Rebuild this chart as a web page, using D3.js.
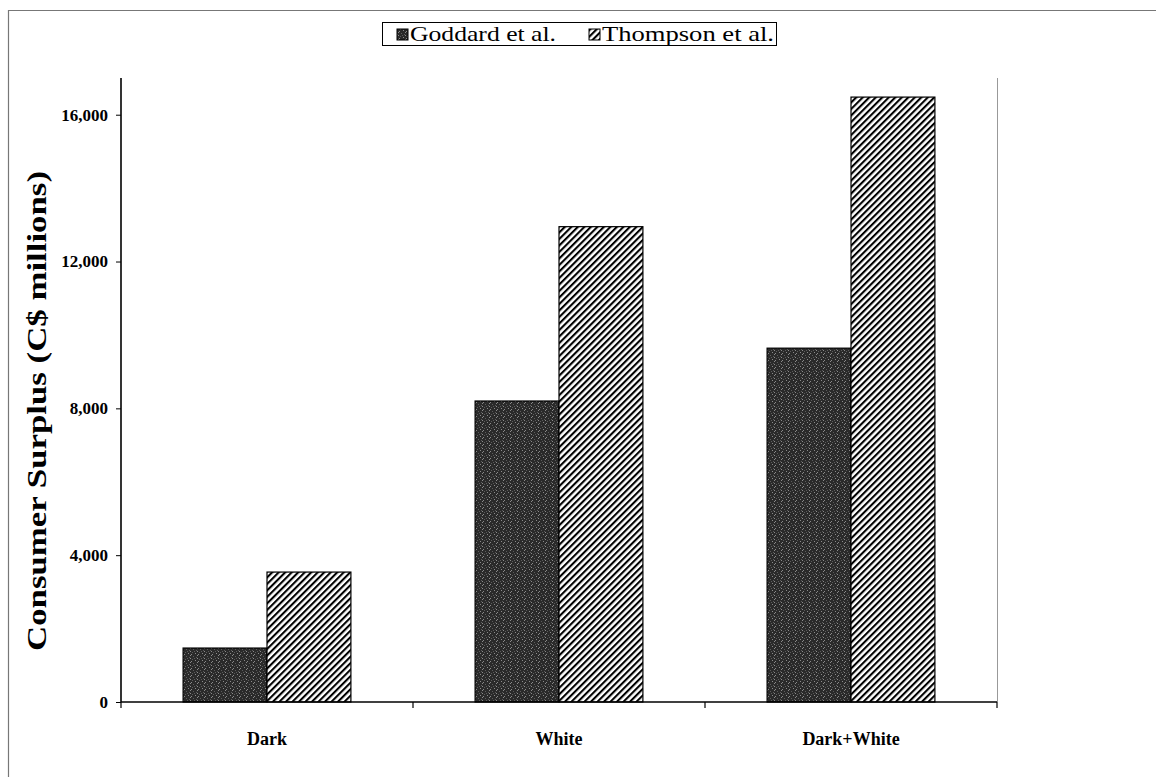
<!DOCTYPE html>
<html>
<head>
<meta charset="utf-8">
<script src="https://cdn.jsdelivr.net/npm/d3@7"></script>
<style>
  html, body { margin: 0; padding: 0; background: #fff; }
  svg { display: block; }
</style>
</head>
<body>
<svg id="chart" width="1156" height="777"></svg>
<script>
// Consumer surplus estimates by wheat class (C$ millions)
const categories = ["Dark", "White", "Dark+White"];
const seriesNames = ["Goddard et al.", "Thompson et al."];
const goddard = [1470, 8200, 9640];
const thompson = [3540, 12950, 16480];
const yTicks = [0, 4000, 8000, 12000, 16000];

const svg = d3.select("#chart");
const serif = "'Liberation Serif', 'Times New Roman', serif";

const plot = { left: 121, right: 997, top: 78, bottom: 702 };

// fill patterns
const defs = svg.append("defs");
const speck = defs.append("pattern")
  .attr("id", "speck").attr("patternUnits", "userSpaceOnUse")
  .attr("width", 7).attr("height", 7);
speck.append("rect").attr("width", 7).attr("height", 7).attr("fill", "#2a2a2a");
[[1,1],[4,2],[2,5],[6,4],[5,6],[0,3],[3,0],[6,0]].forEach(([px, py], i) => {
  speck.append("rect").attr("x", px).attr("y", py).attr("width", 1).attr("height", 1)
    .attr("fill", i % 2 ? "#8a8a8a" : "#5c5c5c");
});

const hatch = defs.append("pattern")
  .attr("id", "hatch").attr("patternUnits", "userSpaceOnUse")
  .attr("width", 4.6).attr("height", 4.6)
  .attr("patternTransform", "rotate(45)");
hatch.append("rect").attr("width", 4.6).attr("height", 4.6).attr("fill", "#fff");
hatch.append("line").attr("x1", 0).attr("y1", 0).attr("x2", 0).attr("y2", 4.6)
  .attr("stroke", "#000").attr("stroke-width", 4.2);

const fills = ["url(#speck)", "url(#hatch)"];

// outer frame (top and left edges)
svg.append("path")
  .attr("d", "M8.5,777 L8.5,10.5 L1156,10.5")
  .attr("fill", "none").attr("stroke", "#777").attr("stroke-width", 1.2);

// scales
const x0 = d3.scaleBand().domain(categories).range([plot.left, plot.right]);
const x1 = d3.scaleBand().domain(seriesNames)
  .range([0, x0.bandwidth()]).paddingOuter(0.74).paddingInner(0);
const y = d3.scaleLinear().domain([0, 17000]).range([plot.bottom, plot.top]);

// plot-area right edge
svg.append("line")
  .attr("x1", plot.right + 0.5).attr("x2", plot.right + 0.5)
  .attr("y1", plot.top).attr("y2", plot.bottom)
  .attr("stroke", "#999").attr("stroke-width", 1);

// bars
const rows = categories.map((c, i) => ({ cat: c, vals: [goddard[i], thompson[i]] }));
const groups = svg.append("g").selectAll("g").data(rows).join("g")
  .attr("transform", d => `translate(${x0(d.cat)},0)`);
groups.selectAll("rect")
  .data(d => d.vals.map((v, j) => ({ name: seriesNames[j], v, j })))
  .join("rect")
  .attr("x", d => x1(d.name))
  .attr("width", x1.bandwidth())
  .attr("y", d => y(d.v))
  .attr("height", d => y(0) - y(d.v))
  .attr("fill", d => fills[d.j])
  .attr("stroke", "#000").attr("stroke-width", 1.2);

// y axis
const yAxis = svg.append("g")
  .attr("transform", `translate(${plot.left},0)`)
  .call(d3.axisLeft(y).tickValues(yTicks).tickSize(5).tickPadding(8)
    .tickFormat(d3.format(",")));
yAxis.select(".domain").attr("stroke", "#000").attr("stroke-width", 1.6)
  .attr("d", `M0,${plot.top}V${plot.bottom}`);
yAxis.selectAll(".tick line").attr("stroke", "#000");
yAxis.selectAll("text")
  .attr("font-family", serif).attr("font-size", 17).attr("font-weight", "bold")
  .attr("fill", "#000");

// x axis
const xAxis = svg.append("g")
  .attr("transform", `translate(0,${plot.bottom})`)
  .call(d3.axisBottom(x0).tickSize(0).tickPadding(30));
xAxis.select(".domain").attr("stroke", "#000").attr("stroke-width", 1.6)
  .attr("d", `M${plot.left},0H${plot.right}`);
xAxis.selectAll("text")
  .attr("font-family", serif).attr("font-size", 18).attr("font-weight", "bold")
  .attr("fill", "#000");
// boundary ticks between categories
const bounds = categories.map(c => x0(c)).concat([plot.right]);
xAxis.selectAll(".bound").data(bounds).join("line")
  .attr("class", "bound")
  .attr("x1", d => d).attr("x2", d => d)
  .attr("y1", 0).attr("y2", 6)
  .attr("stroke", "#000").attr("stroke-width", 1.2);

// y axis title
svg.append("text")
  .attr("transform", `translate(46,411) rotate(-90)`)
  .attr("text-anchor", "middle")
  .attr("font-family", serif).attr("font-size", 27).attr("font-weight", "bold")
  .attr("textLength", 480).attr("lengthAdjust", "spacingAndGlyphs")
  .text("Consumer Surplus (C$ millions)");

// legend
const legend = svg.append("g");
legend.append("rect")
  .attr("x", 382.5).attr("y", 22.5).attr("width", 394).attr("height", 23)
  .attr("fill", "#fff").attr("stroke", "#000").attr("stroke-width", 1);
const legX = [397, 589];
const legW = [146, 172];
seriesNames.forEach((name, j) => {
  legend.append("rect")
    .attr("x", legX[j]).attr("y", 29).attr("width", 11).attr("height", 11)
    .attr("fill", fills[j]).attr("stroke", "#000").attr("stroke-width", 1);
  legend.append("text")
    .attr("x", legX[j] + 13).attr("y", 41)
    .attr("font-family", serif).attr("font-size", 21)
    .attr("textLength", legW[j]).attr("lengthAdjust", "spacingAndGlyphs")
    .text(name);
});
</script>
</body>
</html>
